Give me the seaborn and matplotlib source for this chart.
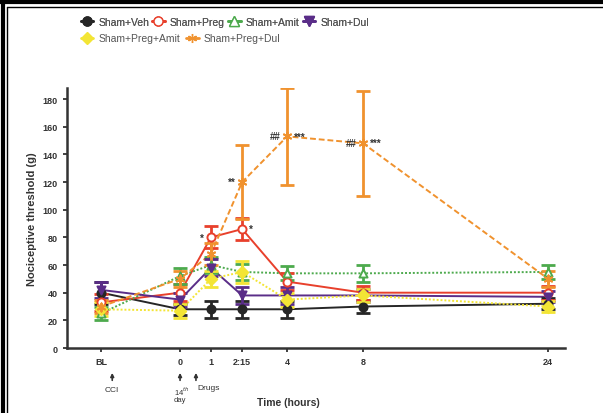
import numpy as np
import pandas as pd
import seaborn as sns
import matplotlib.pyplot as plt
from matplotlib.lines import Line2D

#--data--#
times = ['BL', '0', '1', '2:15', '4', '8', '24']
groups = ['Sham+Veh', 'Sham+Preg', 'Sham+Amit', 'Sham+Dul', 'Sham+Preg+Amit', 'Sham+Preg+Dul']

sham_veh = [40, 28, 28, 28, 28, 30, 32]
sham_preg = [33, 40, 80, 86, 48, 40, 40]
sham_amit = [25, 52, 60, 55, 54, 54, 55]
sham_dul = [42, 35, 58, 38, 38, 38, 37]
sham_preg_amit = [28, 27, 50, 55, 35, 38, 30]
sham_preg_dul = [30, 50, 68, 120, 153, 148, 50]

err_veh = [8, 4, 6, 6, 6, 5, 4]
err_preg = [6, 6, 8, 8, 6, 5, 5]
err_amit = [5, 6, 6, 6, 5, 6, 5]
err_dul = [6, 5, 6, 6, 6, 5, 4]
err_preg_amit = [5, 5, 6, 8, 5, 5, 4]
err_preg_dul = [5, 6, 8, 27, 35, 38, 6]

values = [sham_veh, sham_preg, sham_amit, sham_dul, sham_preg_amit, sham_preg_dul]
errors = [err_veh, err_preg, err_amit, err_dul, err_preg_amit, err_preg_dul]

#--uneven spacing of the time axis (layout)--#
xpos = dict(zip(times, [-2.63, 0, 1.03, 2.07, 3.57, 6.1, 12.27]))

colors = ['#262626', '#e8402c', '#4daa4d', '#5a2d88', '#f3e535', '#f0922e']
markers = ['o', 'o', '^', 'v', 'D', (6, 2, 0)]
dashes = ['', '', (1, 1), '', (1, 1), (3, 1.5)]
faces = ['#262626', 'white', 'white', '#5a2d88', '#f3e535', '#f0922e']

rows = []
for g, vals, errs in zip(groups, values, errors):
    for t, v, e in zip(times, vals, errs):
        rows.append({'group': g, 'time': t, 'x': xpos[t], 'value': v, 'sem': e})
df = pd.DataFrame(rows)

sns.set_style('ticks')
plt.rcParams['font.family'] = ['Liberation Sans', 'DejaVu Sans']

fig = plt.figure(figsize=(6.03, 4.14), dpi=100)
ax = fig.add_axes([0.111, 0.157, 0.826, 0.628])

palette = dict(zip(groups, colors))
sns.lineplot(data=df, x='x', y='value', hue='group', style='group',
             hue_order=groups, style_order=groups, palette=palette,
             markers=False, dashes=dict(zip(groups, dashes)),
             errorbar=None, linewidth=1.4, legend=False, ax=ax)

# error bars and markers
for g, c, fc, m in zip(groups, colors, faces, markers):
    sub = df[df['group'] == g]
    ax.errorbar(sub['x'], sub['value'], yerr=sub['sem'], fmt='none', ecolor=c,
                elinewidth=2, capsize=5, capthick=2, zorder=3)
    ax.scatter(sub['x'], sub['value'], marker=m, s=34, facecolor=fc, edgecolor=c,
               linewidths=1.4, zorder=4)

# significance marks
def mark(group, t, text, side):
    v = df[(df['group'] == group) & (df['time'] == t)]['value'].iloc[0]
    off = -5 if side == 'l' else 5
    ax.annotate(text, (xpos[t], v), xytext=(off, 0), textcoords='offset points',
                ha='right' if side == 'l' else 'left', va='center',
                fontsize=7, fontweight='bold', color='#333333', zorder=5)

mark('Sham+Preg', '1', '*', 'l')
mark('Sham+Preg', '2:15', '*', 'r')
mark('Sham+Preg+Dul', '2:15', '**', 'l')
mark('Sham+Preg+Dul', '4', '##', 'l')
mark('Sham+Preg+Dul', '4', '***', 'r')
mark('Sham+Preg+Dul', '8', '##', 'l')
mark('Sham+Preg+Dul', '8', '***', 'r')

ax.set_xlim(-3.77, 12.83)
ax.set_ylim(0, 188)
ax.set_yticks(range(0, 181, 20))
ax.set_xticks([xpos[t] for t in times])
ax.set_xticklabels(times)
for lab in ax.get_xticklabels() + ax.get_yticklabels():
    lab.set_fontweight('bold')
    lab.set_fontsize(6.5)
    lab.set_color('#333333')
ax.tick_params(width=1.3, length=3, colors='#333333')
for s in ['left', 'bottom']:
    ax.spines[s].set_linewidth(1.8)
    ax.spines[s].set_color('#333333')
sns.despine(ax=ax)

ax.set_ylabel('Nociceptive threshold (g)', fontsize=8, fontweight='bold', color='#333333')
ax.set_xlabel('Time (hours)', fontsize=7.5, fontweight='bold', color='#333333')
ax.xaxis.set_label_coords(0.444, -0.19)

# arrows under the time axis
trans = ax.get_xaxis_transform()
for xa in [xpos['BL'] + 0.37, xpos['0'], xpos['0'] + 0.53]:
    ax.annotate('', xy=(xa, -0.085), xytext=(xa, -0.135), xycoords=trans, textcoords=trans,
                arrowprops=dict(arrowstyle='-|>', color='#333333', lw=1.2, mutation_scale=5),
                annotation_clip=False)
ax.text(xpos['BL'] + 0.37, -0.145, 'CCI', transform=trans, ha='center', va='top',
        fontsize=6, color='#333333')
ax.text(xpos['0'] - 0.2, -0.14, '14$^{th}$\nday', transform=trans, ha='left', va='top',
        fontsize=5.5, color='#333333', linespacing=0.9)
ax.text(xpos['0'] + 0.58, -0.14, 'Drugs', transform=trans, ha='left', va='top',
        fontsize=6, color='#333333')

# legend in two rows
def handle(i):
    return Line2D([], [], color=colors[i], marker=markers[i], markerfacecolor=faces[i],
                  markeredgecolor=colors[i], markersize=6.5, linewidth=2)

leg1 = fig.legend([handle(i) for i in range(4)], groups[:4], ncol=4, loc='upper left',
                  bbox_to_anchor=(0.118, 0.98), frameon=False, fontsize=7.5,
                  handlelength=1.2, handletextpad=0.5, columnspacing=0.3, labelcolor='#555555')
fig.legend([handle(i) for i in range(4, 6)], groups[4:], ncol=2, loc='upper left',
           bbox_to_anchor=(0.118, 0.94), frameon=False, fontsize=7.5,
           handlelength=1.2, handletextpad=0.5, columnspacing=0.6, labelcolor='#555555')
fig.add_artist(leg1)

# frame lines on the top and left of the picture
fig.add_artist(Line2D([0, 1], [1 - 2.5 / 414, 1 - 2.5 / 414], color='black', lw=3, transform=fig.transFigure))
fig.add_artist(Line2D([7 / 603, 1], [1 - 8 / 414, 1 - 8 / 414], color='black', lw=1, transform=fig.transFigure))
fig.add_artist(Line2D([3 / 603, 3 / 603], [0, 1 - 2.5 / 414], color='black', lw=3, transform=fig.transFigure))
fig.add_artist(Line2D([7 / 603, 7 / 603], [0, 1 - 8 / 414], color='black', lw=1, transform=fig.transFigure))

fig.savefig('out.png', dpi=100)
